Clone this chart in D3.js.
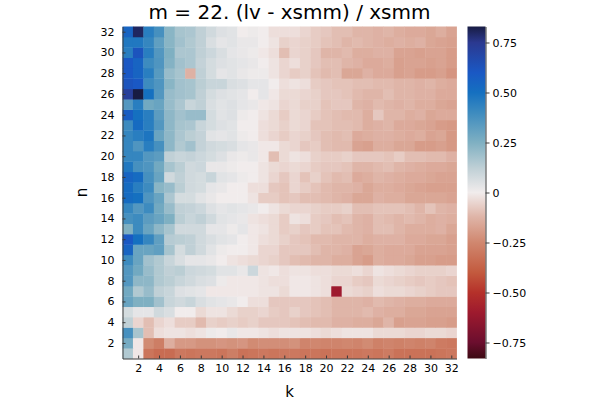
<!DOCTYPE html>
<html>
<head>
<meta charset="utf-8">
<script src="https://cdn.jsdelivr.net/npm/d3@7"></script>
<style>
  body { margin: 0; background: #fff; }
  svg text { font-family: "DejaVu Sans", sans-serif; fill: #000; }
</style>
</head>
<body>
<svg id="chart" width="600" height="400"></svg>
<script>
const kValues = [1, 2, 3, 4, 5, 6, 7, 8, 9, 10, 11, 12, 13, 14, 15, 16, 17, 18, 19, 20, 21, 22, 23, 24, 25, 26, 27, 28, 29, 30, 31, 32]
const nValues = [1, 2, 3, 4, 5, 6, 7, 8, 9, 10, 11, 12, 13, 14, 15, 16, 17, 18, 19, 20, 21, 22, 23, 24, 25, 26, 27, 28, 29, 30, 31, 32]
const xTicks = [2, 4, 6, 8, 10, 12, 14, 16, 18, 20, 22, 24, 26, 28, 30, 32]
const yTicks = [2, 4, 6, 8, 10, 12, 14, 16, 18, 20, 22, 24, 26, 28, 30, 32]
const cbTicks = [-0.75, -0.5, -0.25, 0, 0.25, 0.5, 0.75]
const cbLimit = 0.83

// (lv - xsmm) / xsmm, one row per n (n = 1 first), k = 1..32 across
const ratio = [
  [0.15, -0.01, -0.31, -0.34, -0.34, -0.30, -0.31, -0.30, -0.30, -0.31, -0.28, -0.32, -0.31, -0.30, -0.31, -0.30, -0.30, -0.31, -0.31, -0.32, -0.31, -0.31, -0.31, -0.30, -0.31, -0.29, -0.32, -0.32, -0.32, -0.32, -0.31, -0.30],
  [0.27, -0.01, -0.24, -0.28, -0.14, -0.20, -0.20, -0.22, -0.22, -0.21, -0.22, -0.21, -0.24, -0.23, -0.23, -0.23, -0.22, -0.26, -0.25, -0.26, -0.26, -0.25, -0.26, -0.24, -0.27, -0.26, -0.27, -0.26, -0.27, -0.26, -0.29, -0.30],
  [0.38, 0.17, -0.10, -0.03, -0.02, -0.02, -0.03, -0.02, 0.01, 0.00, 0.02, -0.01, -0.01, -0.02, -0.03, -0.02, -0.02, -0.02, -0.03, -0.04, -0.03, -0.02, -0.02, -0.02, -0.04, -0.04, -0.04, -0.05, -0.05, -0.04, -0.04, -0.05],
  [0.12, -0.05, -0.10, -0.05, -0.03, -0.07, -0.07, -0.11, -0.06, -0.07, -0.06, -0.07, -0.06, -0.08, -0.08, -0.08, -0.09, -0.10, -0.11, -0.11, -0.13, -0.13, -0.14, -0.14, -0.16, -0.12, -0.18, -0.17, -0.17, -0.18, -0.18, -0.19],
  [0.07, 0.03, 0.03, 0.08, 0.06, 0.00, 0.00, -0.04, -0.02, -0.02, -0.04, -0.06, -0.06, -0.05, -0.07, -0.08, -0.06, -0.08, -0.09, -0.10, -0.12, -0.12, -0.12, -0.11, -0.13, -0.14, -0.14, -0.16, -0.16, -0.17, -0.17, -0.17],
  [0.30, 0.25, 0.25, 0.18, 0.10, 0.08, 0.10, 0.06, 0.04, 0.03, 0.02, 0.00, -0.03, -0.03, -0.08, -0.08, -0.08, -0.08, -0.09, -0.10, -0.12, -0.12, -0.12, -0.13, -0.11, -0.12, -0.13, -0.14, -0.14, -0.15, -0.15, -0.15],
  [0.28, 0.15, 0.20, 0.12, 0.10, 0.05, 0.04, 0.03, -0.01, -0.01, -0.01, -0.01, -0.01, -0.02, -0.02, -0.04, -0.01, -0.01, -0.02, -0.03, -0.60, -0.04, -0.05, -0.06, -0.03, -0.04, -0.04, -0.05, -0.06, -0.07, -0.08, -0.08],
  [0.35, 0.22, 0.22, 0.15, 0.13, 0.10, 0.08, 0.06, 0.05, 0.01, -0.01, -0.01, -0.01, -0.02, -0.03, -0.03, -0.01, -0.01, -0.02, -0.03, -0.05, -0.05, -0.07, -0.08, -0.04, -0.05, -0.06, -0.07, -0.08, -0.07, -0.08, -0.09],
  [0.35, 0.28, 0.20, 0.15, 0.12, 0.13, 0.09, 0.08, 0.07, 0.04, 0.04, 0.02, 0.09, -0.02, -0.01, -0.03, -0.02, -0.02, -0.03, -0.03, -0.04, -0.04, -0.03, -0.05, -0.02, -0.03, -0.04, -0.05, -0.06, -0.06, -0.06, -0.05],
  [0.40, 0.30, 0.18, 0.15, 0.10, 0.06, 0.03, 0.03, 0.02, 0.00, -0.02, -0.03, -0.04, -0.05, -0.06, -0.08, -0.10, -0.11, -0.12, -0.12, -0.14, -0.14, -0.17, -0.19, -0.14, -0.15, -0.15, -0.16, -0.18, -0.18, -0.19, -0.19],
  [0.55, 0.30, 0.30, 0.32, 0.17, 0.07, 0.12, 0.08, 0.04, 0.01, 0.00, 0.00, -0.01, -0.05, -0.05, -0.08, -0.08, -0.08, -0.10, -0.12, -0.12, -0.13, -0.17, -0.16, -0.14, -0.15, -0.15, -0.15, -0.17, -0.17, -0.17, -0.18],
  [0.60, 0.50, 0.42, 0.32, 0.14, 0.13, 0.12, 0.08, 0.06, 0.04, 0.03, 0.00, -0.01, -0.03, -0.04, -0.06, -0.08, -0.09, -0.11, -0.11, -0.12, -0.12, -0.12, -0.14, -0.13, -0.13, -0.13, -0.15, -0.15, -0.16, -0.16, -0.18],
  [0.25, 0.40, 0.30, 0.22, 0.17, 0.08, 0.08, 0.08, 0.03, 0.03, 0.01, 0.03, -0.01, -0.02, -0.04, -0.07, -0.06, -0.08, -0.07, -0.09, -0.09, -0.11, -0.12, -0.13, -0.10, -0.10, -0.12, -0.14, -0.14, -0.14, -0.13, -0.16],
  [0.38, 0.40, 0.33, 0.30, 0.25, 0.13, 0.10, 0.12, 0.08, 0.04, 0.03, 0.02, -0.02, -0.03, -0.04, -0.07, -0.02, -0.03, -0.07, -0.08, -0.10, -0.09, -0.12, -0.13, -0.10, -0.11, -0.12, -0.11, -0.12, -0.14, -0.13, -0.14],
  [0.42, 0.35, 0.40, 0.28, 0.20, 0.12, 0.11, 0.09, 0.05, 0.03, 0.04, 0.03, 0.02, 0.00, -0.02, -0.04, -0.05, -0.05, -0.06, -0.07, -0.07, -0.06, -0.10, -0.10, -0.09, -0.09, -0.09, -0.10, -0.12, -0.09, -0.12, -0.13],
  [0.52, 0.50, 0.36, 0.30, 0.16, 0.07, 0.07, 0.04, 0.02, 0.00, 0.00, 0.00, -0.02, -0.07, -0.07, -0.09, -0.08, -0.10, -0.10, -0.11, -0.12, -0.13, -0.16, -0.16, -0.13, -0.14, -0.14, -0.16, -0.16, -0.16, -0.16, -0.17],
  [0.52, 0.45, 0.40, 0.23, 0.20, 0.13, 0.08, 0.07, 0.03, 0.02, 0.00, 0.00, -0.03, -0.03, -0.08, -0.09, -0.05, -0.07, -0.09, -0.11, -0.12, -0.12, -0.13, -0.16, -0.14, -0.14, -0.15, -0.16, -0.17, -0.18, -0.18, -0.18],
  [0.55, 0.52, 0.38, 0.30, 0.08, 0.12, 0.08, 0.07, 0.10, 0.04, 0.03, 0.01, 0.00, -0.02, -0.05, -0.08, -0.05, -0.09, -0.06, -0.09, -0.11, -0.10, -0.15, -0.14, -0.12, -0.13, -0.14, -0.15, -0.15, -0.16, -0.17, -0.17],
  [0.47, 0.38, 0.36, 0.28, 0.17, 0.13, 0.08, 0.09, 0.02, 0.02, 0.01, 0.00, 0.00, -0.02, -0.04, -0.05, -0.04, -0.05, -0.07, -0.08, -0.08, -0.09, -0.12, -0.12, -0.11, -0.10, -0.12, -0.13, -0.14, -0.15, -0.15, -0.16],
  [0.42, 0.42, 0.35, 0.33, 0.12, 0.10, 0.11, 0.09, 0.07, 0.05, 0.02, 0.01, 0.02, -0.01, -0.10, -0.04, -0.02, -0.03, -0.06, -0.07, -0.07, -0.06, -0.08, -0.08, -0.08, -0.09, -0.07, -0.10, -0.10, -0.11, -0.11, -0.13],
  [0.42, 0.36, 0.45, 0.38, 0.22, 0.15, 0.18, 0.11, 0.08, 0.07, 0.06, 0.03, 0.02, -0.01, -0.01, -0.04, -0.05, -0.08, -0.07, -0.10, -0.11, -0.11, -0.17, -0.18, -0.14, -0.14, -0.16, -0.16, -0.19, -0.19, -0.18, -0.20],
  [0.42, 0.45, 0.48, 0.30, 0.22, 0.16, 0.13, 0.11, 0.04, 0.03, 0.04, 0.01, 0.00, -0.03, -0.05, -0.07, -0.05, -0.06, -0.08, -0.10, -0.11, -0.10, -0.15, -0.14, -0.13, -0.13, -0.14, -0.15, -0.14, -0.17, -0.16, -0.20],
  [0.40, 0.52, 0.45, 0.35, 0.22, 0.17, 0.16, 0.10, 0.07, 0.05, 0.04, 0.00, 0.00, -0.03, -0.04, -0.06, -0.04, -0.05, -0.09, -0.09, -0.10, -0.10, -0.11, -0.14, -0.13, -0.12, -0.15, -0.15, -0.16, -0.17, -0.19, -0.20],
  [0.58, 0.50, 0.45, 0.33, 0.22, 0.18, 0.20, 0.20, 0.07, 0.04, 0.05, 0.01, 0.00, -0.02, -0.04, -0.07, -0.04, -0.05, -0.07, -0.09, -0.10, -0.11, -0.11, -0.14, -0.08, -0.12, -0.12, -0.14, -0.13, -0.16, -0.15, -0.15],
  [0.35, 0.45, 0.28, 0.30, 0.20, 0.16, 0.10, 0.12, 0.06, 0.04, 0.05, 0.03, 0.02, -0.01, -0.02, -0.05, -0.04, -0.06, -0.06, -0.09, -0.08, -0.08, -0.12, -0.13, -0.11, -0.12, -0.13, -0.12, -0.14, -0.14, -0.16, -0.17],
  [0.72, 0.83, 0.50, 0.35, 0.20, 0.18, 0.17, 0.12, 0.07, 0.05, 0.04, 0.03, 0.00, 0.03, -0.01, -0.04, -0.04, -0.05, -0.06, -0.08, -0.08, -0.09, -0.11, -0.12, -0.12, -0.10, -0.12, -0.12, -0.13, -0.13, -0.15, -0.15],
  [0.62, 0.60, 0.40, 0.36, 0.23, 0.18, 0.17, 0.13, 0.10, 0.10, 0.06, 0.05, 0.03, 0.03, 0.00, -0.03, -0.02, -0.03, -0.07, -0.08, -0.09, -0.09, -0.10, -0.10, -0.11, -0.11, -0.12, -0.12, -0.13, -0.12, -0.14, -0.15],
  [0.60, 0.55, 0.45, 0.34, 0.20, 0.17, -0.13, 0.12, 0.07, 0.03, 0.04, 0.02, 0.01, 0.01, -0.02, -0.05, -0.07, -0.06, -0.09, -0.11, -0.10, -0.16, -0.16, -0.13, -0.15, -0.15, -0.18, -0.17, -0.19, -0.19, -0.18, -0.21],
  [0.60, 0.55, 0.40, 0.36, 0.24, 0.18, 0.16, 0.11, 0.07, 0.05, 0.04, 0.03, 0.02, 0.00, -0.02, -0.05, -0.03, -0.06, -0.08, -0.10, -0.10, -0.12, -0.13, -0.15, -0.15, -0.14, -0.18, -0.17, -0.17, -0.18, -0.17, -0.19],
  [0.45, 0.62, 0.45, 0.35, 0.25, 0.16, 0.16, 0.12, 0.09, 0.06, 0.03, 0.02, 0.01, -0.01, -0.03, -0.10, -0.05, -0.06, -0.08, -0.12, -0.12, -0.11, -0.14, -0.14, -0.13, -0.13, -0.17, -0.17, -0.18, -0.17, -0.17, -0.19],
  [0.47, 0.47, 0.42, 0.32, 0.23, 0.18, 0.15, 0.12, 0.06, 0.03, 0.04, 0.02, 0.02, 0.00, -0.02, -0.06, -0.05, -0.06, -0.07, -0.09, -0.10, -0.12, -0.11, -0.12, -0.13, -0.14, -0.13, -0.14, -0.13, -0.16, -0.17, -0.18],
  [0.55, 0.80, 0.45, 0.38, 0.23, 0.17, 0.16, 0.12, 0.08, 0.05, 0.04, 0.00, 0.01, 0.00, -0.03, -0.03, -0.03, -0.05, -0.07, -0.08, -0.10, -0.10, -0.12, -0.12, -0.13, -0.12, -0.14, -0.15, -0.15, -0.16, -0.14, -0.17]
]

// reversed "balance" colour map, sampled by eye
const cbStops = [-0.83, -0.75, -0.6, -0.5, -0.4, -0.25, -0.12, 0, 0.12, 0.25, 0.4, 0.5, 0.6, 0.75, 0.83]
const cbColors = ['#3c0912', '#6b0e2e', '#9e1a2e', '#b5312a', '#c35a3e', '#d0876f', '#dfb5a8', '#f1ecec', '#c0d0d6', '#7fb0c2', '#3d8bbf', '#1570c0', '#1a58c4', '#2b3990', '#181c43']

class HeatmapChart {
  constructor(svg) {
    this.svg = svg
    this.left = 122.5
    this.right = 456.5
    this.top = 26.5
    this.bottom = 358.5
    this.x = d3.scaleLinear().domain([0.5, 32.5]).range([this.left, this.right])
    this.y = d3.scaleLinear().domain([0.5, 32.5]).range([this.bottom, this.top])
    this.color = d3.scaleLinear().domain(cbStops).range(cbColors).clamp(true)
  }

  draw() {
    this.drawCells()
    this.drawAxes()
    this.drawColorbar()
    this.drawLabels()
  }

  drawCells() {
    var cells = []
    nValues.forEach((n, i) => {
      kValues.forEach((k, j) => {
        cells.push({ k: k, n: n, v: ratio[i][j] })
      })
    })

    this.svg.append('g')
      .attr('class', 'cells')
      .selectAll('rect')
      .data(cells)
      .join('rect')
      .attr('x', d => this.x(d.k - 0.5))
      .attr('y', d => this.y(d.n + 0.5))
      .attr('width', d => this.x(d.k + 0.5) - this.x(d.k - 0.5) + 0.4)
      .attr('height', d => this.y(d.n - 0.5) - this.y(d.n + 0.5) + 0.4)
      .style('fill', d => this.color(d.v))
      .style('stroke', 'none')
  }

  styleAxis(g) {
    g.attr('font-family', '"DejaVu Sans", sans-serif').attr('font-size', 11)
    g.select('.domain').attr('stroke', '#3a3a3a')
    g.selectAll('.tick line').attr('stroke', '#3a3a3a')
    g.selectAll('.tick text').attr('fill', '#000')
  }

  drawAxes() {
    var xAxis = d3.axisBottom(this.x).tickValues(xTicks).tickSize(-3).tickSizeOuter(0).tickPadding(6)
    var gx = this.svg.append('g')
      .attr('transform', `translate(0,${this.bottom})`)
      .call(xAxis)
    this.styleAxis(gx)

    var yAxis = d3.axisLeft(this.y).tickValues(yTicks).tickSize(-3).tickSizeOuter(0).tickPadding(8)
    var gy = this.svg.append('g')
      .attr('transform', `translate(${this.left},0)`)
      .call(yAxis)
    this.styleAxis(gy)
  }

  drawColorbar() {
    var cbLeft = 467.5
    var cbRight = 485.5
    var cbScale = d3.scaleLinear().domain([-cbLimit, cbLimit]).range([this.bottom, this.top])

    var grad = this.svg.append('defs')
      .append('linearGradient')
      .attr('id', 'cbgrad')
      .attr('x1', 0).attr('y1', 1).attr('x2', 0).attr('y2', 0)
    grad.selectAll('stop')
      .data(cbStops)
      .join('stop')
      .attr('offset', d => (d + cbLimit) / (2 * cbLimit))
      .attr('stop-color', d => this.color(d))

    this.svg.append('rect')
      .attr('x', cbLeft)
      .attr('y', this.top)
      .attr('width', cbRight - cbLeft)
      .attr('height', this.bottom - this.top)
      .style('fill', 'url(#cbgrad)')

    var fmt = d3.format('.2f')
    var cbAxis = d3.axisRight(cbScale)
      .tickValues(cbTicks)
      .tickSize(4)
      .tickSizeOuter(0)
      .tickPadding(3)
      .tickFormat(d => d === 0 ? '0' : fmt(d).replace('-', '\u2212'))
    var gc = this.svg.append('g')
      .attr('transform', `translate(${cbRight},0)`)
      .call(cbAxis)
    this.styleAxis(gc)
  }

  drawLabels() {
    var cx = (this.left + this.right) / 2
    this.svg.append('text')
      .attr('x', cx)
      .attr('y', 19)
      .attr('text-anchor', 'middle')
      .style('font-size', '20px')
      .text('m = 22. (lv - xsmm) / xsmm')

    this.svg.append('text')
      .attr('x', cx)
      .attr('y', 397)
      .attr('text-anchor', 'middle')
      .style('font-size', '15px')
      .text('k')

    this.svg.append('text')
      .attr('transform', `translate(87,${(this.top + this.bottom) / 2}) rotate(-90)`)
      .attr('text-anchor', 'middle')
      .style('font-size', '15px')
      .text('n')
  }
}

new HeatmapChart(d3.select('#chart')).draw()
</script>
</body>
</html>
